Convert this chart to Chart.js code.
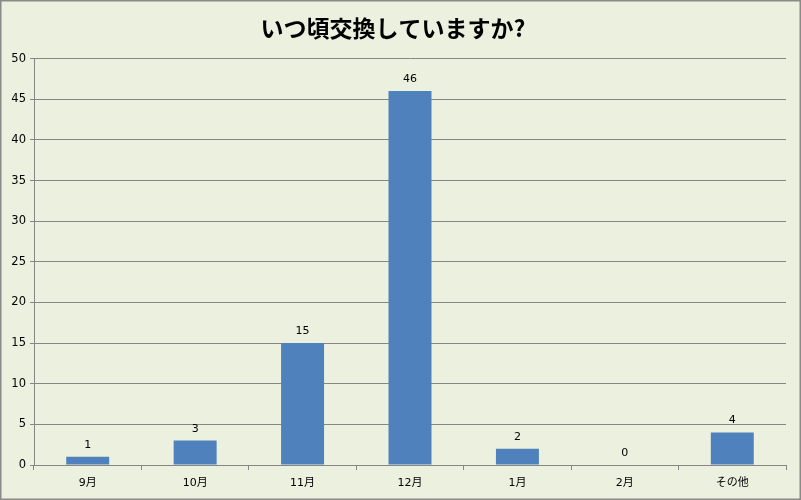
<!DOCTYPE html>
<html lang="ja">
<head>
    <meta charset="UTF-8">
    <title>いつ頃交換していますか?</title>
    <script src="https://cdn.jsdelivr.net/npm/chart.js"></script>
    <style>
        body {
            margin: 0;
            background: #ffffff;
        }
        #chart {
            display: block;
        }
    </style>
</head>
<body>
    <canvas id="chart" width="801" height="500"></canvas>

    <script>
        const months = ["9月", "10月", "11月", "12月", "1月", "2月", "その他"];
        const counts = [1, 3, 15, 46, 2, 0, 4];
        const yTicks = [0, 5, 10, 15, 20, 25, 30, 35, 40, 45, 50];

        const fontFamily = "'DejaVu Sans', 'Noto Sans CJK JP', sans-serif";
        const gridColor = "#868686";

        // background, outer frame and value labels
        const framePlugin = {
            id: "frame",
            beforeDraw(chart) {
                const ctx = chart.ctx;
                ctx.save();
                ctx.fillStyle = "#ecf0df";
                ctx.fillRect(0, 0, chart.width, chart.height);
                ctx.restore();
            },
            afterDraw(chart) {
                const ctx = chart.ctx;
                ctx.save();
                ctx.strokeStyle = "#8a8a8a";
                ctx.lineWidth = 1.5;
                ctx.strokeRect(0.75, 0.75, chart.width - 1.5, chart.height - 1.5);

                const meta = chart.getDatasetMeta(0);
                ctx.fillStyle = "#000";
                ctx.font = "11px " + fontFamily;
                ctx.textAlign = "center";
                ctx.textBaseline = "alphabetic";
                meta.data.forEach((bar, i) => {
                    ctx.fillText(String(counts[i]), bar.x, bar.y - 9);
                });
                ctx.restore();
            }
        };

        new Chart(document.getElementById("chart"), {
            type: "bar",
            data: {
                labels: months,
                datasets: [{
                    data: counts,
                    backgroundColor: "#4f81bd",
                    barPercentage: 0.4,
                    categoryPercentage: 1.0
                }]
            },
            options: {
                responsive: false,
                animation: false,
                layout: { padding: { left: 0, right: 15, top: 0, bottom: 0 } },
                plugins: {
                    legend: { display: false },
                    tooltip: { enabled: false },
                    title: {
                        display: true,
                        text: "いつ頃交換していますか?",
                        color: "#000",
                        font: { family: "'Noto Sans CJK JP', sans-serif", size: 23, weight: "bold", lineHeight: 1.2 },
                        padding: { top: 14, bottom: 17 }
                    }
                },
                scales: {
                    x: {
                        afterFit(scale) { scale.height = 35; },
                        grid: {
                            offset: true,
                            drawOnChartArea: false,
                            drawTicks: true,
                            tickLength: 5,
                            color: gridColor
                        },
                        border: { color: gridColor },
                        ticks: {
                            color: "#000",
                            padding: 7,
                            font: { family: fontFamily, size: 11 }
                        }
                    },
                    y: {
                        min: 0,
                        max: 50,
                        afterFit(scale) { scale.width = 34; },
                        afterBuildTicks(scale) {
                            scale.ticks = yTicks.map(v => ({ value: v }));
                        },
                        grid: {
                            color: gridColor,
                            tickLength: 4
                        },
                        border: { color: gridColor },
                        ticks: {
                            color: "#000",
                            padding: 4,
                            font: { family: fontFamily, size: 11.5 }
                        }
                    }
                }
            },
            plugins: [framePlugin]
        });
    </script>
</body>
</html>
